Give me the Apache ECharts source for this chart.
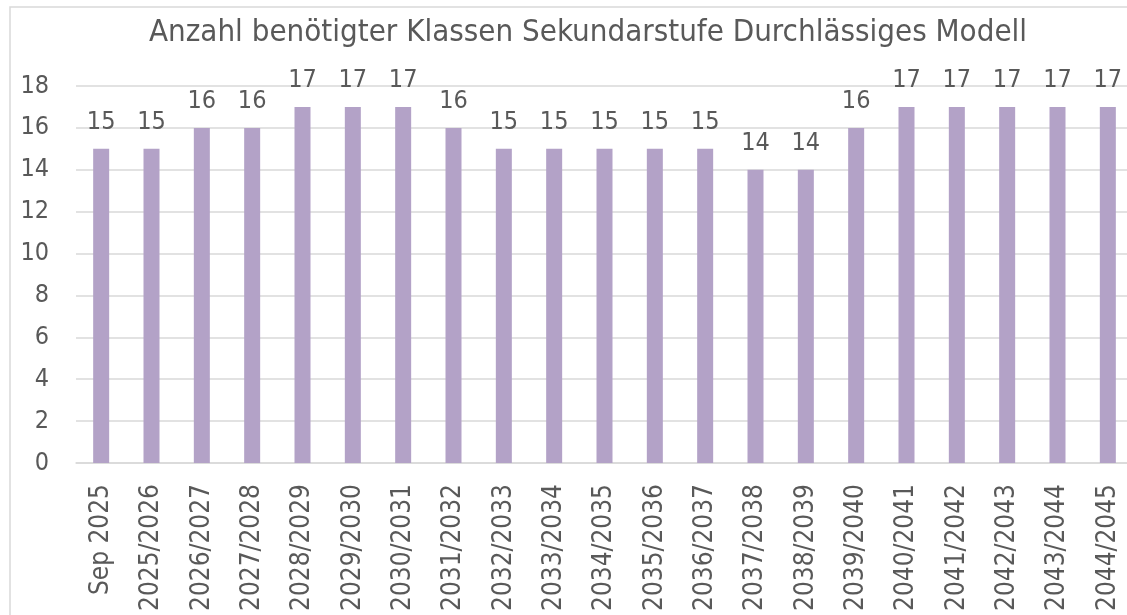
<!DOCTYPE html>
<html>
<head>
<meta charset="utf-8">
<script src="https://cdn.jsdelivr.net/npm/echarts@6/dist/echarts.min.js"></script>
<style>
  html, body { margin: 0; padding: 0; background: #fff; }
  #chart { width: 1127px; height: 615px; }
</style>
</head>
<body>
<div id="chart"></div>
<script>
var categories = ['Sep 2025', '2025/2026', '2026/2027', '2027/2028', '2028/2029', '2029/2030',
    '2030/2031', '2031/2032', '2032/2033', '2033/2034', '2034/2035', '2035/2036', '2036/2037',
    '2037/2038', '2038/2039', '2039/2040', '2040/2041', '2041/2042', '2042/2043', '2043/2044', '2044/2045'];
var klassen = [15, 15, 16, 16, 17, 17, 17, 16, 15, 15, 15, 15, 15, 14, 14, 16, 17, 17, 17, 17, 17];

var font = '"DejaVu Sans Condensed", "Roboto", sans-serif';
var grey = '#595959';

var myChart = echarts.init(document.getElementById('chart'));

option = {
    backgroundColor: '#fff',
    animation: false,
    textStyle: {fontFamily: font},
    graphic: [{
        type: 'rect',
        shape: {x: 10, y: 7, width: 1160, height: 640},
        style: {fill: 'none', stroke: '#d9d9d9', lineWidth: 1.5},
        silent: true
    }],
    title: {
        text: 'Anzahl benötigter Klassen Sekundarstufe Durchlässiges Modell',
        left: 583,
        top: 12,
        textAlign: 'center',
        textStyle: {color: grey, fontSize: 31, fontWeight: 'normal', fontFamily: font}
    },
    grid: {left: 76, top: 86, width: 1057, height: 377, outerBoundsMode: 'none', containLabel: false},
    xAxis: {
        type: 'category',
        data: categories,
        axisLine: {lineStyle: {color: '#d9d9d9', width: 1.5}},
        axisTick: {show: false},
        axisLabel: {rotate: 90, color: grey, fontSize: 26, margin: 21, fontFamily: font}
    },
    yAxis: {
        type: 'value',
        min: 0,
        max: 18,
        interval: 2,
        axisLine: {show: false},
        axisTick: {show: false},
        splitLine: {lineStyle: {color: '#d9d9d9', width: 1.5}},
        axisLabel: {color: grey, fontSize: 25, margin: 27, fontFamily: font}
    },
    series: [{
        name: 'Klassen',
        type: 'bar',
        data: klassen,
        barWidth: 16,
        itemStyle: {color: '#b3a2c7'},
        label: {show: true, position: 'top', distance: 14, color: grey, fontSize: 25, fontFamily: font}
    }]
};

myChart.setOption(option);
</script>
</body>
</html>
